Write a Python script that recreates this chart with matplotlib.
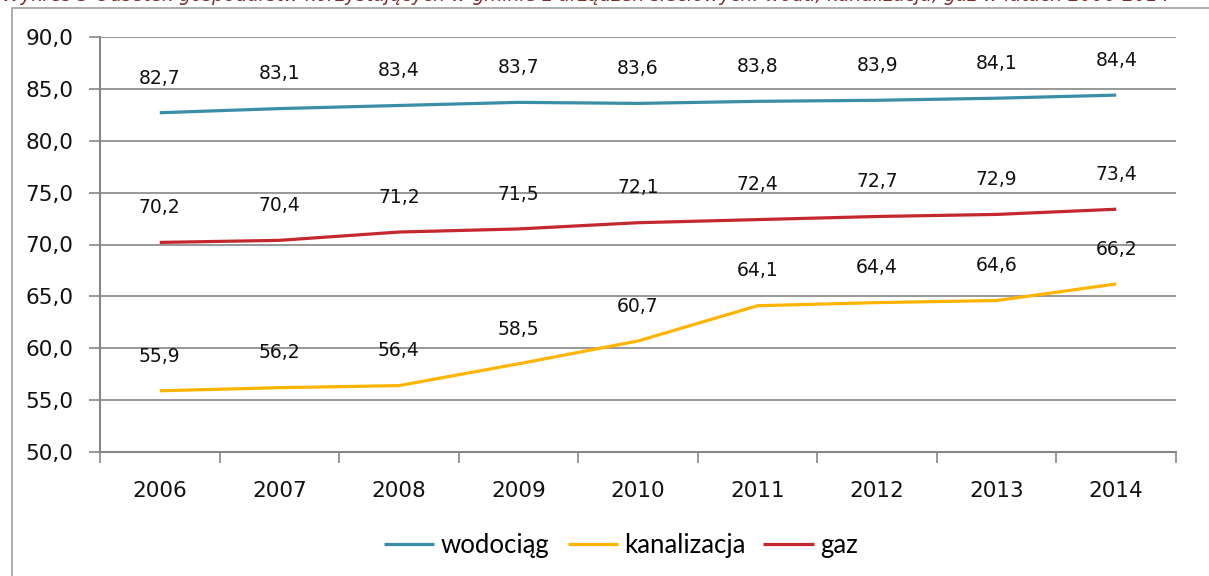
import matplotlib
matplotlib.use('Agg')
import matplotlib.pyplot as plt
from matplotlib.patches import Rectangle

years = ['2006', '2007', '2008', '2009', '2010', '2011', '2012', '2013', '2014']
wodociag = [82.7, 83.1, 83.4, 83.7, 83.6, 83.8, 83.9, 84.1, 84.4]
kanalizacja = [55.9, 56.2, 56.4, 58.5, 60.7, 64.1, 64.4, 64.6, 66.2]
gaz = [70.2, 70.4, 71.2, 71.5, 72.1, 72.4, 72.7, 72.9, 73.4]

series = [('wodociąg', wodociag, '#3A8EA5'),
          ('kanalizacja', kanalizacja, '#FFB500'),
          ('gaz', gaz, '#C3282E')]

W, H = 1209, 576
fig = plt.figure(figsize=(W / 100, H / 100), dpi=100)
ax = fig.add_axes([100 / W, 1 - 452 / H, 1076 / W, 415 / H])

# outer chart frame and title (cut at the top edge, as in the source)
fig.patches.append(Rectangle((12 / W, -0.1), 1.2, 1 - 8 / H + 0.1, transform=fig.transFigure,
                             fill=False, edgecolor='#A0A0A0', linewidth=1.2))
fig.text(2 / W, 1 - 1 / H, 'Wykres 3 Odsetek gospodarstw korzystających w gminie z urządzeń sieciowych: woda, kanalizacja, gaz w latach 2006-2014',
         ha='left', va='baseline', fontsize=13.5, style='italic', color='#7B2C2C', family='DejaVu Sans')

x = list(range(len(years)))
for name, vals, col in series:
    ax.plot(x, vals, color=col, linewidth=2.3, label=name, solid_capstyle='butt')
    for xi, v in zip(x, vals):
        ax.annotate(('%.1f' % v).replace('.', ','), (xi, v), xytext=(0, 25), textcoords='offset points',
                    ha='center', va='center', fontsize=13.5, family='DejaVu Sans', color='#111111')

ax.set_xlim(-0.5, len(years) - 0.5)
ax.set_ylim(50, 90)
ax.set_yticks(range(50, 91, 5))
ax.set_yticklabels([('%.1f' % v).replace('.', ',') for v in range(50, 91, 5)])
ax.set_xticks(x)
ax.set_xticklabels(years)
ax.set_xticks([i - 0.5 for i in range(len(years) + 1)], minor=True)
ax.tick_params(axis='x', which='major', length=0, pad=21, labelsize=15.5, colors='#111111')
ax.tick_params(axis='x', which='minor', length=8, color='#868686', width=1.2)
ax.tick_params(axis='y', length=8, color='#868686', width=1.2, pad=11, labelsize=15.5, colors='#111111')
for lab in ax.get_xticklabels() + ax.get_yticklabels():
    lab.set_family('DejaVu Sans')

ax.grid(axis='y', color='#868686', linewidth=1.2)
ax.set_axisbelow(True)
for s in ['top', 'right']:
    ax.spines[s].set_visible(False)
for s in ['left', 'bottom']:
    ax.spines[s].set_color('#868686')
    ax.spines[s].set_linewidth(1.5)

fig.legend(loc='center', bbox_to_anchor=(621 / W, 1 - 545 / H), ncol=3, frameon=False,
           prop={'family': 'Lato', 'size': 18.5}, handlelength=1.95, handletextpad=0.25, columnspacing=0.7)

fig.savefig('out.png', dpi=100)
